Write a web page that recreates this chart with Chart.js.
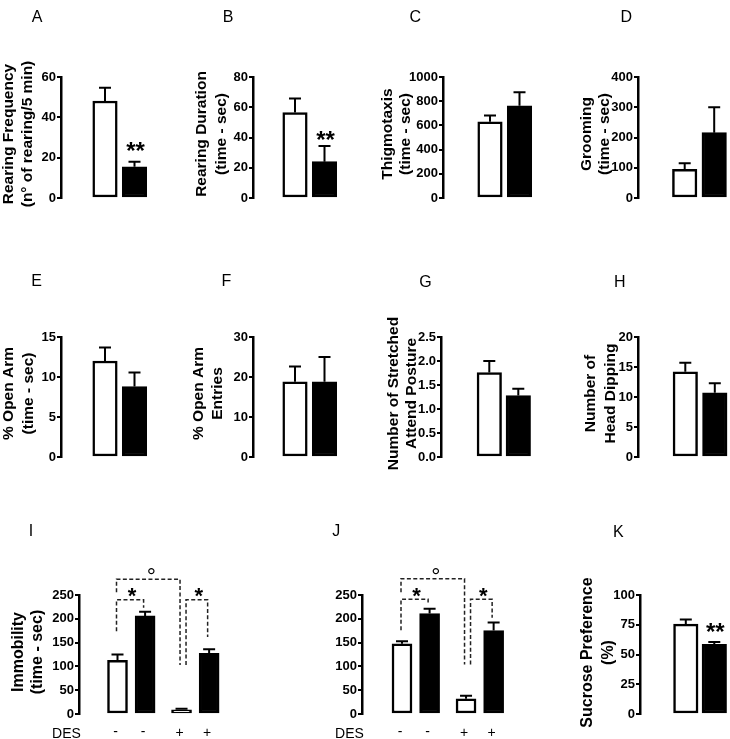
<!DOCTYPE html>
<html><head><meta charset="utf-8">
<script src="https://cdn.jsdelivr.net/npm/chart.js@4.4.0/dist/chart.umd.min.js"></script>
<style>
html,body{margin:0;padding:0;background:#fff;}
body{position:relative;width:730px;height:739px;overflow:hidden;}
canvas{position:absolute;}
</style>
</head><body>
<script>
// ---------------- DATA ----------------
const twoGroups = ['Control', 'Treated'];
const fourGroups = ['Control', 'Treated', 'Control + DES', 'Treated + DES'];
const desSigns = ['-', '-', '+', '+'];

const rearingFreqMean = [48.1, 15.5];  const rearingFreqSem = [6.6, 2.5];
const rearingDurMean  = [56.5, 24.0];  const rearingDurSem  = [9.3, 10.3];
const thigmoMean      = [630, 762];    const thigmoSem      = [52, 112];
const groomMean       = [95, 216];     const groomSem       = [20, 84];
const openArmTimeMean = [12.0, 8.8];   const openArmTimeSem = [1.7, 1.75];
const openArmEntMean  = [18.8, 18.8];  const openArmEntSem  = [3.8, 6.2];
const sapMean         = [1.76, 1.28];  const sapSem         = [0.24, 0.14];
const headDipMean     = [14.2, 10.7];  const headDipSem     = [1.5, 1.6];
const immobIMean      = [113, 206, 9, 127.5]; const immobISem = [12, 9, 2, 8.5];
const immobJMean      = [147.5, 211, 32, 175.5]; const immobJSem = [5.5, 10, 6.5, 16.5];
const sucroseMean     = [75.5, 58.5];  const sucroseSem     = [4, 2];

const rearingFreqTicks = ['0', '20', '40', '60'];
const rearingDurTicks  = ['0', '20', '40', '60', '80'];
const thigmoTicks      = ['0', '200', '400', '600', '800', '1000'];
const groomTicks       = ['0', '100', '200', '300', '400'];
const openArmTimeTicks = ['0', '5', '10', '15'];
const openArmEntTicks  = ['0', '10', '20', '30'];
const sapTicks         = ['0.0', '0.5', '1.0', '1.5', '2.0', '2.5'];
const headDipTicks     = ['0', '5', '10', '15', '20'];
const immobTicks       = ['0', '50', '100', '150', '200', '250'];
const sucroseTicks     = ['0', '25', '50', '75', '100'];

const rearingFreqTitle = ['Rearing Frequency', '(n° of rearing/5 min)'];
const rearingDurTitle  = ['Rearing Duration', '(time - sec)'];
const thigmoTitle      = ['Thigmotaxis', '(time - sec)'];
const groomTitle       = ['Grooming', '(time - sec)'];
const openArmTimeTitle = ['% Open Arm', '(time - sec)'];
const openArmEntTitle  = ['% Open Arm', 'Entries'];
const sapTitle         = ['Number of Stretched', 'Attend Posture'];
const headDipTitle     = ['Number of', 'Head Dipping'];
const immobTitle       = ['Immobility', '(time - sec)'];
const sucroseTitle     = ['Sucrose Preference', '(%)'];

const rearingFreqSig = ['', '**'];
const rearingDurSig  = ['', '**'];
const sucroseSig     = ['', '**'];

// brackets: [fromBar, toBar, leftStartValue, topValue, rightEndValue, mark]
const immobIBrackets = [[0, 1, 174, 240, 223, '*'], [0, 2, 256, 283, 103, '°'], [2, 3, 103, 240, 162, '*']];
const immobJBrackets = [[0, 1, 176, 241, 234, '*'], [0, 2, 256, 284, 104, '°'], [2, 3, 104, 241, 202, '*']];

// ---------------- DRAWING ----------------
const FONT = "'Liberation Sans', Arial, Helvetica, sans-serif";
const AXW = 80;

function text(ctx, s, x, yc, size, weight, emCenter) {
  ctx.font = weight + ' ' + size + 'px ' + FONT;
  ctx.textAlign = 'center';
  ctx.textBaseline = 'alphabetic';
  ctx.fillStyle = '#000';
  ctx.fillText(s, x, yc + emCenter * size);
}

const decor = {
  id: 'decor',
  afterDatasetsDraw(chart, args, o) {
    const ctx = chart.ctx, ys = chart.scales.y;
    const meta = chart.getDatasetMeta(0);
    const vals = chart.data.datasets[0].data;
    ctx.save();
    ctx.strokeStyle = '#000';
    ctx.lineWidth = 2;
    o.sem.forEach((s, i) => {
      const bar = meta.data[i];
      const v = vals[i].y;
      const y0 = ys.getPixelForValue(v), y1 = ys.getPixelForValue(v + s);
      ctx.beginPath();
      ctx.moveTo(bar.x, y0); ctx.lineTo(bar.x, y1);
      ctx.moveTo(bar.x - 6, y1); ctx.lineTo(bar.x + 6, y1);
      ctx.stroke();
      if (o.sig && o.sig[i]) {
        text(ctx, o.sig[i], bar.x + 1, y1 - o.sigGap, 24, 'bold', 0.5);
      }
    });
    if (o.brackets) {
      ctx.setLineDash([4, 2.4]);
      ctx.lineWidth = 1.5;
      ctx.strokeStyle = '#222';
      o.brackets.forEach((b, k) => {
        const [i1, i2, v1, vt, v2, mark] = b;
        const xa = meta.data[i1].x + o.bracketDx[k][0];
        const xb = meta.data[i2].x + o.bracketDx[k][1];
        const yt = ys.getPixelForValue(vt);
        ctx.beginPath();
        ctx.moveTo(xa, ys.getPixelForValue(v1));
        ctx.lineTo(xa, yt);
        ctx.lineTo(xb, yt);
        ctx.lineTo(xb, ys.getPixelForValue(v2));
        ctx.stroke();
        if (mark === '*') text(ctx, mark, (xa + xb) / 2 + 2, yt - 8, 22, 'bold', 0.52);
        else text(ctx, mark, (xa + xb) / 2 + 3, yt - 8, 23, 'normal', 0.57);
      });
      ctx.setLineDash([]);
    }
    ctx.restore();
  },
  afterDraw(chart, args, o) {
    const ctx = chart.ctx;
    const meta = chart.getDatasetMeta(0);
    ctx.save();
    ctx.translate(-o.cl, -o.ct);
    text(ctx, o.letter, o.letterPos[0], o.letterPos[1], 16, 'normal', 0.358);
    if (o.title) {
      ctx.font = 'bold ' + o.titleSize + 'px ' + FONT;
      ctx.fillStyle = '#000';
      ctx.textAlign = 'center';
      ctx.textBaseline = 'middle';
      const yc = (o.top + o.bottom) / 2 + o.titleDy;
      o.title.forEach((line, i) => {
        ctx.save();
        ctx.translate(o.titleX[i], yc);
        ctx.rotate(-Math.PI / 2);
        ctx.fillText(line, 0, 0);
        ctx.restore();
      });
    }
    ctx.restore();
    if (o.des) {
      const yc = 732.5 - o.ct;
      text(ctx, 'DES', o.axis - 12.5 - o.cl, yc, 14, 'normal', 0.358);
      o.des.forEach((s, i) => {
        text(ctx, s, meta.data[i].x - 2, yc, 14, 'normal', s === '-' ? 0.273 : 0.353);
      });
    }
  }
};

function makePanel(p) {
  const cv = document.createElement('canvas');
  const areaW = p.areaW || 95;
  const cw = AXW + areaW + 5;
  const cl = p.axis - AXW, ct = p.ct, ch = p.cb - p.ct;
  cv.width = cw; cv.height = ch;
  cv.style.left = cl + 'px'; cv.style.top = ct + 'px';
  document.body.appendChild(cv);
  const tickVals = p.ticks.map(Number);
  const xpos = p.cats.map((c, i) => p.des ? i + 0.32 * (p.des[i] === '+' ? 1 : 0) : i);
  const xmin = -(p.first - p.axis) / p.unit;
  const xmax = xmin + areaW / p.unit;
  new Chart(cv, {
    type: 'bar',
    data: {
      datasets: [{
        label: p.id,
        data: p.mean.map((v, i) => ({ x: xpos[i], y: v })),
        backgroundColor: p.cats.map((c, i) => i % 2 ? '#000' : '#fff'),
        borderColor: '#000',
        borderWidth: 2.5,
        borderSkipped: false,
        barThickness: p.barW
      }]
    },
    options: {
      responsive: false,
      animation: false,
      events: [],
      layout: {
        autoPadding: false,
        padding: { left: 0, right: 5, top: p.top - ct, bottom: p.cb - p.bottom }
      },
      plugins: {
        legend: { display: false },
        tooltip: { enabled: false },
        decor: {
          sem: p.sem, sig: p.sig, sigGap: p.sigGap || 14, brackets: p.brackets, bracketDx: p.bracketDx,
          cl: cl, ct: ct, letter: p.id, letterPos: p.letterPos, title: p.title, titleX: p.titleX,
          titleSize: p.titleSize || 15.5,
          titleDy: p.titleDy === undefined ? -3.5 : p.titleDy, top: p.top, bottom: p.bottom, des: p.des, axis: p.axis
        }
      },
      scales: {
        x: { type: 'linear', display: false, offset: false, min: xmin, max: xmax },
        y: {
          type: 'linear', min: 0, max: tickVals[tickVals.length - 1],
          afterFit: s => { s.width = AXW; },
          afterBuildTicks: s => { s.ticks = tickVals.map(v => ({ value: v })); },
          border: { display: true, color: '#000', width: 2.5 },
          grid: { display: true, drawOnChartArea: false, drawTicks: true, tickLength: 4, color: '#000', lineWidth: 2 },
          ticks: {
            color: '#000', padding: 1,
            font: { family: FONT, size: 13, weight: 'bold' },
            callback: (v, i) => p.ticks[i]
          }
        }
      }
    },
    plugins: [decor]
  });
}

const R1 = { top: 77, bottom: 198, ct: 0, cb: 240 };
const R2 = { top: 337, bottom: 457, ct: 262, cb: 495 };
const R3 = { top: 595, bottom: 714, ct: 510, cb: 739 };

const panels = [
  Object.assign({ id: 'A', cats: twoGroups, mean: rearingFreqMean, sem: rearingFreqSem, ticks: rearingFreqTicks, title: rearingFreqTitle, sig: rearingFreqSig, sigGap: 15,
    axis: 61, first: 105, unit: 29.5, barW: 24.5, titleX: [8.5, 28], letterPos: [37, 16.3] }, R1),
  Object.assign({ id: 'B', cats: twoGroups, mean: rearingDurMean, sem: rearingDurSem, ticks: rearingDurTicks, title: rearingDurTitle, sig: rearingDurSig, sigGap: 10,
    axis: 253, first: 295, unit: 29.5, barW: 24.5, titleX: [201.5, 222], letterPos: [228, 16.3] }, R1),
  Object.assign({ id: 'C', cats: twoGroups, mean: thigmoMean, sem: thigmoSem, ticks: thigmoTicks, title: thigmoTitle,
    axis: 442.7, first: 489.7, unit: 29.5, barW: 24.5, titleX: [387.5, 405.5], letterPos: [415, 16.3] }, R1),
  Object.assign({ id: 'D', cats: twoGroups, mean: groomMean, sem: groomSem, ticks: groomTicks, title: groomTitle,
    axis: 638.3, first: 685, unit: 29.5, barW: 24.5, titleX: [587, 605.5], letterPos: [626.5, 16.3] }, R1),
  Object.assign({ id: 'E', cats: twoGroups, mean: openArmTimeMean, sem: openArmTimeSem, ticks: openArmTimeTicks, title: openArmTimeTitle,
    axis: 61, first: 105, unit: 29.5, barW: 24.5, titleX: [9, 29], letterPos: [36.7, 280.5] }, R2),
  Object.assign({ id: 'F', cats: twoGroups, mean: openArmEntMean, sem: openArmEntSem, ticks: openArmEntTicks, title: openArmEntTitle,
    axis: 253, first: 295, unit: 29.5, barW: 24.5, titleX: [199, 217.5], letterPos: [226.5, 280.5] }, R2),
  Object.assign({ id: 'G', cats: twoGroups, mean: sapMean, sem: sapSem, ticks: sapTicks, title: sapTitle,
    axis: 440.5, first: 488.8, unit: 29, barW: 24.5, titleX: [393, 411.5], letterPos: [425, 281] }, R2),
  Object.assign({ id: 'H', cats: twoGroups, mean: headDipMean, sem: headDipSem, ticks: headDipTicks, title: headDipTitle,
    axis: 637.7, first: 685, unit: 29.5, barW: 24.5, titleX: [590.5, 610.5], letterPos: [619.5, 281] }, R2),
  Object.assign({ id: 'I', cats: fourGroups, des: desSigns, mean: immobIMean, sem: immobISem, ticks: immobTicks, title: immobTitle,
    brackets: immobIBrackets, bracketDx: [[-1, -1.5], [-1, -1.5], [4.5, -1.5]], areaW: 150, titleSize: 16,
    axis: 78.5, first: 117, unit: 27.6, barW: 20, titleX: [18, 37], letterPos: [30.5, 530], titleDy: -2.5 }, R3),
  Object.assign({ id: 'J', cats: fourGroups, des: desSigns, mean: immobJMean, sem: immobJSem, ticks: immobTicks, title: null,
    brackets: immobJBrackets, bracketDx: [[-1, -1.5], [-1, -1.5], [4.5, -1.5]], areaW: 150,
    axis: 361.7, first: 401.7, unit: 27.6, barW: 20, titleX: [], letterPos: [336, 530.5] }, R3),
  Object.assign({ id: 'K', cats: twoGroups, mean: sucroseMean, sem: sucroseSem, ticks: sucroseTicks, title: sucroseTitle, sig: sucroseSig, sigGap: 14,
    axis: 640, first: 685.8, unit: 28.5, barW: 24.5, titleX: [588, 609], letterPos: [618.3, 531], titleDy: -2, titleSize: 16 }, R3)
];

panels.forEach(makePanel);
</script>
</body></html>
